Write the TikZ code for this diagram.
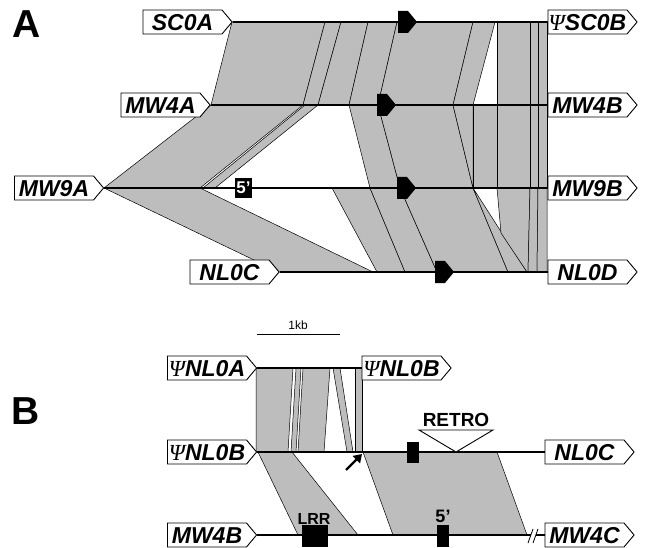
\documentclass[tikz,border=0pt]{standalone}
\usepackage{fontspec}
\setmainfont{Liberation Sans}
\newfontfamily\psifont{Liberation Serif}
\usepackage{tikz}
\usetikzlibrary{arrows.meta,shapes.symbols,positioning}
\definecolor{stipple}{gray}{0.74}
\newcommand{\psig}{{\psifont\mdseries\itshape Ψ}}

\begin{document}
\begin{tikzpicture}[x=1pt,y=-1pt,every node/.style={inner sep=0pt},
  tag/.style={shape=signal,signal to=east,signal pointer angle=100,draw,line width=0.9pt,fill=white,
    text width=79pt,align=center,text height=16.5pt,text depth=0pt,minimum height=24pt,
    font=\fontsize{23}{23}\selectfont\bfseries\itshape},
  band/.style={fill=stipple,draw=black,line width=0.5pt,line join=round},
  chrom/.style={line width=1.1pt},
  panel/.style={font=\fontsize{39}{39}\selectfont\bfseries},
  gene/.style={fill=black}]
\useasboundingbox (0,0) rectangle (648,548);
% panel A
\filldraw[band] (232,22) -- (325,22) -- (303,105) -- (211,105) -- cycle;
\filldraw[band] (325,22) -- (341,22) -- (318,105) -- (303,105) -- cycle;
\filldraw[band] (341,22) -- (368,22) -- (349,105) -- (318,105) -- cycle;
\filldraw[band] (368,22) -- (397,22) -- (378,105) -- (349,105) -- cycle;
\filldraw[band] (397,22) -- (473,22) -- (453,105) -- (378,105) -- cycle;
\filldraw[band] (473,22) -- (495,22) -- (473,105) -- (453,105) -- cycle;
\filldraw[band] (497,22) -- (530,22) -- (530,105) -- (497,105) -- cycle;
\filldraw[band] (530,22) -- (538,22) -- (538,105) -- (530,105) -- cycle;
\filldraw[band] (538,22) -- (547,22) -- (547,105) -- (538,105) -- cycle;
\filldraw[band] (211,105) -- (303,105) -- (200,188) -- (104,188) -- cycle;
\filldraw[band] (305,105) -- (318,105) -- (215,188) -- (203,188) -- cycle;
\filldraw[band] (349,105) -- (378,105) -- (400,188) -- (370,188) -- cycle;
\filldraw[band] (378,105) -- (453,105) -- (473,188) -- (400,188) -- cycle;
\filldraw[band] (453,105) -- (473,105) -- (473,188) -- cycle;
\filldraw[band] (473,105) -- (497,105) -- (497,188) -- (473,188) -- cycle;
\filldraw[band] (497,105) -- (530,105) -- (530,188) -- (497,188) -- cycle;
\filldraw[band] (530,105) -- (538,105) -- (538,188) -- (530,188) -- cycle;
\filldraw[band] (538,105) -- (547,105) -- (547,188) -- (538,188) -- cycle;
\filldraw[band] (104,188) -- (200,188) -- (373,272) -- (279,272) -- cycle;
\filldraw[band] (332,188) -- (370,188) -- (405,272) -- (377,272) -- cycle;
\filldraw[band] (370,188) -- (400,188) -- (437,272) -- (405,272) -- cycle;
\filldraw[band] (400,188) -- (473,188) -- (508,272) -- (437,272) -- cycle;
\filldraw[band] (473,188) -- (527,272) -- (508,272) -- cycle;
\filldraw[band] (497,188) -- (530,188) -- (528,272) -- (527,272) -- (501,233) -- cycle;
\filldraw[band] (530,188) -- (538,188) -- (537,272) -- (528,272) -- cycle;
\filldraw[band] (538,188) -- (547,188) -- (547,272) -- (537,272) -- cycle;
\node[panel] (labA) at (27,24) {A};
\node[tag] (sc0a) at (182.5,22) {SC0A};
\node[tag] (mw4a) at (160.5,105) {MW4A};
\node[tag] (mw9a) at (54,188) {MW9A};
\node[tag] (nl0c) at (229.5,272) {NL0C};
\node[tag] (sc0b) at (587.5,22) {\psig SC0B};
\node[tag] (mw4b) at (587.5,105) {MW4B};
\node[tag] (mw9b) at (587.5,188) {MW9B};
\node[tag] (nl0d) at (587.5,272) {NL0D};
\draw[chrom] (sc0a.east) -- (sc0b.west);
\draw[chrom] (mw4a.east) -- (mw4b.west);
\draw[chrom] (mw9a.east) -- (mw9b.west);
\draw[chrom] (nl0c.east) -- (nl0d.west);
\fill[gene] (398,22) ++(0,-11) -- ++(10,0) -- ++(9,11) -- ++(-9,11) -- ++(-10,0) -- cycle;
\fill[gene] (377,105) ++(0,-11) -- ++(10,0) -- ++(9,11) -- ++(-9,11) -- ++(-10,0) -- cycle;
\fill[gene] (397,188) ++(0,-11) -- ++(10,0) -- ++(9,11) -- ++(-9,11) -- ++(-10,0) -- cycle;
\fill[gene] (435,272) ++(0,-11) -- ++(10,0) -- ++(9,11) -- ++(-9,11) -- ++(-10,0) -- cycle;
\node[gene,text=white,minimum width=17pt,minimum height=20pt,font=\fontsize{17}{17}\selectfont\bfseries] (fiveA) at (243.5,188) {5'};
% panel B
\filldraw[band] (256,368) -- (293,368) -- (288,452) -- (256,452) -- cycle;
\filldraw[band] (296,368) -- (301,368) -- (296,452) -- (291,452) -- cycle;
\filldraw[band] (303,368) -- (330,368) -- (324,452) -- (298,452) -- cycle;
\filldraw[band] (333,368) -- (340,368) -- (353,452) -- (347,452) -- cycle;
\filldraw[band] (355,368) -- (362,368) -- (362,452) -- (355,452) -- cycle;
\filldraw[band] (258,452) -- (292,452) -- (358,535) -- (298,535) -- cycle;
\filldraw[band] (363,452) -- (497,452) -- (527,535) -- (393,535) -- cycle;
\node[panel] (labB) at (26,411) {B};
\node[font=\fontsize{12}{12}\selectfont] (kb) at (298,325) {1kb};
\draw[line width=0.8pt] (257,334) -- (340,334);
\node[tag] (nl0a) at (207,368) {\psig NL0A};
\node[tag] (nl0bt) at (401.5,368) {\psig NL0B};
\node[tag] (nl0bl) at (207,452) {\psig NL0B};
\node[tag] (nl0cb) at (584.5,452) {NL0C};
\node[tag] (mw4bb) at (207,535) {MW4B};
\node[tag] (mw4c) at (584.5,535) {MW4C};
\coordinate (brkL) at (531,535);
\coordinate (brkR) at (536,535);
\draw[chrom] (nl0a.east) -- (nl0bt.west);
\draw[chrom] (nl0bl.east) -- (nl0cb.west);
\draw[chrom] (mw4bb.east) -- (brkL);
\draw[chrom] (brkR) -- (mw4c.west);
\draw[line width=0.8pt] (528,543) -- (533,529) (533,543) -- (538,529);
\filldraw[fill=white,draw=black,line width=0.9pt] (419,430) -- (493,430) -- (456,452) -- cycle;
\node[font=\fontsize{19}{19}\selectfont\bfseries] (retro) at (456,420) {RETRO};
\node[gene,minimum width=12pt,minimum height=21pt] (rbox) at (413,452.5) {};
\node[gene,minimum width=26pt,minimum height=22pt] (lrrbox) at (315,536) {};
\node[gene,minimum width=12pt,minimum height=22pt] (fivebox) at (443,536) {};
\node[font=\fontsize{16}{16}\selectfont\bfseries] (lrr) at (314,519) {LRR};
\node[font=\fontsize{18}{18}\selectfont\bfseries] (fiveB) at (443,516) {5'};
\coordinate (tipB) at (362,454);
\draw[-{Triangle[length=8pt,width=10pt]},line width=2.4pt] (346,470) -- (tipB);
\end{tikzpicture}
\end{document}
